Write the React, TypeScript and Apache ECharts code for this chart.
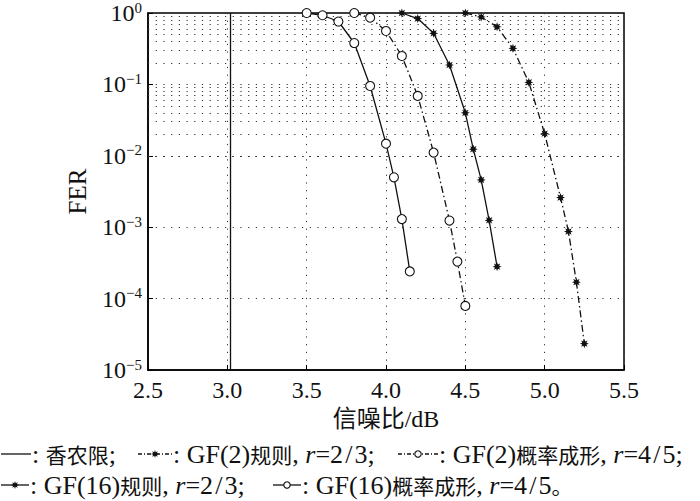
import React, { useEffect, useRef } from "react";
import * as echarts from "echarts";

// ---- data ----
const shannonSnr = [3.02, 3.02];
const shannonFer = [1e-5, 1];

const gf2RegSnr = [4.5, 4.6, 4.7, 4.8, 4.9, 5.0, 5.1, 5.15, 5.2, 5.25];
const gf2RegFer = [1, 0.88, 0.64, 0.32, 0.107, 0.0204, 0.0026, 0.00087, 0.00017, 0.0000234];

const gf2PsSnr = [3.8, 3.9, 4.0, 4.1, 4.2, 4.3, 4.4, 4.45, 4.5];
const gf2PsFer = [1, 0.86, 0.56, 0.25, 0.069, 0.0111, 0.00124, 0.00033, 0.000079];

const gf16RegSnr = [4.1, 4.2, 4.3, 4.4, 4.5, 4.55, 4.6, 4.65, 4.7];
const gf16RegFer = [1, 0.835, 0.52, 0.187, 0.04, 0.0124, 0.0046, 0.00125, 0.00028];

const gf16PsSnr = [3.5, 3.6, 3.7, 3.8, 3.9, 4.0, 4.05, 4.1, 4.15];
const gf16PsFer = [1, 0.93, 0.76, 0.38, 0.095, 0.0148, 0.005, 0.0013, 0.00024];

const minorDecades = [-5, -4, -3, -2, -1];
const minorMultipliers = [2, 3, 4, 5, 6, 7, 8, 9];

const xTicks = { min: 2.5, max: 5.5, interval: 0.5 };
const yRange = { min: 1e-5, max: 1 };

const FAM = "'Liberation Serif', 'Times New Roman', 'Noto Sans CJK SC', serif";
const CJK = "'Noto Sans CJK SC', sans-serif";
const INK = "#111";
const HS = "\u200A";

function starPoints(cx: number, cy: number, R: number, r: number, n = 8): number[][] {
  const pts: number[][] = [];
  for (let i = 0; i < 2 * n; i++) {
    const rad = i % 2 === 0 ? R : r;
    const a = (Math.PI * i) / n - Math.PI / 2;
    pts.push([cx + rad * Math.cos(a), cy + rad * Math.sin(a)]);
  }
  return pts;
}

const starSymbol = (() => {
  const pts = starPoints(10, 10, 10, 5);
  return "path://" + pts.map((p, i) => (i === 0 ? "M" : "L") + p[0].toFixed(2) + "," + p[1].toFixed(2)).join(" ") + " Z";
})();

const zip = (xs: number[], ys: number[]) => xs.map((x, i) => [x, ys[i]]);

const DASHDOT = [7, 3, 1.5, 3];

export default function App() {
  const ref = useRef<HTMLDivElement>(null);
  useEffect(() => {
    if (!ref.current) return;
    const chart = echarts.init(ref.current, undefined, { renderer: "svg" });

    const fs = 26;
    const cfs = 21;
    const LH = 24;
    const font = `${fs}px ${FAM}`;

    const graphics: any[] = [];
    type Sym = { kind: "line" | "star" | "circle"; dash: boolean; w: number };
    const addSym = (x: number, y: number, s: Sym) => {
      graphics.push({
        type: "line",
        shape: { x1: x, y1: y, x2: x + s.w, y2: y },
        style: { stroke: INK, lineWidth: 1.3, lineDash: s.dash ? [4, 2, 1, 2] : null },
      });
      const cx = x + s.w / 2;
      if (s.kind === "circle") {
        graphics.push({ type: "circle", shape: { cx, cy: y, r: 3.2 }, style: { fill: "#fff", stroke: INK, lineWidth: 1.1 } });
      } else if (s.kind === "star") {
        graphics.push({ type: "polygon", shape: { points: starPoints(cx, y, 4, 2) }, style: { fill: INK } });
      }
    };
    const addText = (x: number, y: number, t: string) => {
      graphics.push({
        type: "text",
        x,
        y,
        style: {
          text: t,
          font,
          lineHeight: LH,
          fill: INK,
          verticalAlign: "middle",
          align: "left",
          rich: {
            i: { fontStyle: "italic", fontSize: fs, fontFamily: FAM, fill: INK, lineHeight: LH },
            c: { fontSize: cfs, fontFamily: CJK, fill: INK, lineHeight: LH },
          },
        },
      });
    };
    const eq = (a: string) => `{i|r}=${a.replace("/", HS + "/" + HS)}`;

    // line 1
    const y1 = 454;
    addSym(1, y1, { kind: "line", dash: false, w: 30 });
    addText(32, y1, ": {c|香农限};");
    addSym(138, y1, { kind: "star", dash: true, w: 34 });
    addText(173, y1, `: GF(2){c|规则}, ${eq("2/3")};`);
    addSym(398, y1, { kind: "circle", dash: true, w: 40 });
    addText(439, y1, `: GF(2){c|概率成形}, ${eq("4/5")};`);
    // line 2
    const y2 = 485;
    addSym(1, y2, { kind: "star", dash: false, w: 28 });
    addText(30, y2, `: GF(16){c|规则}, ${eq("2/3")};`);
    addSym(273, y2, { kind: "circle", dash: false, w: 28 });
    addText(302, y2, `: GF(16){c|概率成形}, ${eq("4/5")}{c|。}`);

    const gridDot = { color: "#333", width: 1, type: [1.2, 6.5] as any };

    const minorLines: any[] = [];
    for (const d of minorDecades) for (const m of minorMultipliers) minorLines.push({ yAxis: m * Math.pow(10, d) });

    const option: any = {
      animation: false,
      backgroundColor: "#fff",
      grid: { left: 148, right: 76, top: 6, bottom: 131, show: true, borderColor: "#000", borderWidth: 1.5, backgroundColor: "transparent" },
      xAxis: {
        type: "value",
        min: xTicks.min,
        max: xTicks.max,
        interval: xTicks.interval,
        name: "信噪比/dB",
        nameLocation: "middle",
        nameGap: 37,
        nameTextStyle: { fontSize: 24, fontFamily: FAM, color: INK },
        axisLine: { show: true, lineStyle: { color: "#000", width: 1.5 } },
        axisTick: { show: true, inside: true, length: 5, lineStyle: { color: "#000" } },
        axisLabel: { fontSize: 24, fontFamily: FAM, color: INK, margin: 8, formatter: (v: number) => v.toFixed(1) },
        splitLine: { show: true, lineStyle: gridDot },
      },
      yAxis: {
        type: "log",
        logBase: 10,
        min: yRange.min,
        max: yRange.max,
        splitNumber: 5,
        name: "FER",
        nameLocation: "middle",
        nameGap: 58,
        nameTextStyle: { fontSize: 25, fontFamily: FAM, color: INK },
        axisLine: { show: true, lineStyle: { color: "#000", width: 1.5 } },
        axisTick: { show: true, inside: true, length: 5, lineStyle: { color: "#000" } },
        axisLabel: {
          margin: 6,
          formatter: (v: number) => {
            const e = Math.round(Math.log10(v));
            return `{b|10}{s|${e === 0 ? "0" : "\u2212" + Math.abs(e)}}`;
          },
          rich: {
            b: { fontSize: 24, fontFamily: FAM, color: INK, lineHeight: 26 },
            s: { fontSize: 15, fontFamily: FAM, color: INK, verticalAlign: "top", lineHeight: 15 },
          },
        },
        splitLine: { show: true, lineStyle: gridDot },
      },
      graphic: graphics,
      series: [
        {
          name: "香农限",
          type: "line",
          data: zip(shannonSnr, shannonFer),
          showSymbol: false,
          symbol: "none",
          lineStyle: { color: INK, width: 1.3 },
          z: 5,
          markLine: {
            silent: true,
            symbol: "none",
            label: { show: false },
            lineStyle: gridDot,
            data: minorLines,
            z: 1,
          },
        },
        {
          name: "GF(2)规则",
          type: "line",
          data: zip(gf2RegSnr, gf2RegFer),
          symbol: starSymbol,
          symbolSize: 9,
          itemStyle: { color: INK },
          lineStyle: { color: INK, width: 1.3, type: DASHDOT },
          z: 5,
        },
        {
          name: "GF(2)概率成形",
          type: "line",
          data: zip(gf2PsSnr, gf2PsFer),
          symbol: "circle",
          symbolSize: 9,
          itemStyle: { color: "#fff", borderColor: INK, borderWidth: 1.1 },
          lineStyle: { color: INK, width: 1.3, type: DASHDOT },
          z: 5,
        },
        {
          name: "GF(16)规则",
          type: "line",
          data: zip(gf16RegSnr, gf16RegFer),
          symbol: starSymbol,
          symbolSize: 9,
          itemStyle: { color: INK },
          lineStyle: { color: INK, width: 1.3 },
          z: 5,
        },
        {
          name: "GF(16)概率成形",
          type: "line",
          data: zip(gf16PsSnr, gf16PsFer),
          symbol: "circle",
          symbolSize: 9,
          itemStyle: { color: "#fff", borderColor: INK, borderWidth: 1.1 },
          lineStyle: { color: INK, width: 1.3 },
          z: 5,
        },
      ],
    };
    chart.setOption(option);
    return () => chart.dispose();
  }, []);
  return <div ref={ref} style={{ width: 700, height: 501, position: "absolute", left: 0, top: 0 }} />;
}
